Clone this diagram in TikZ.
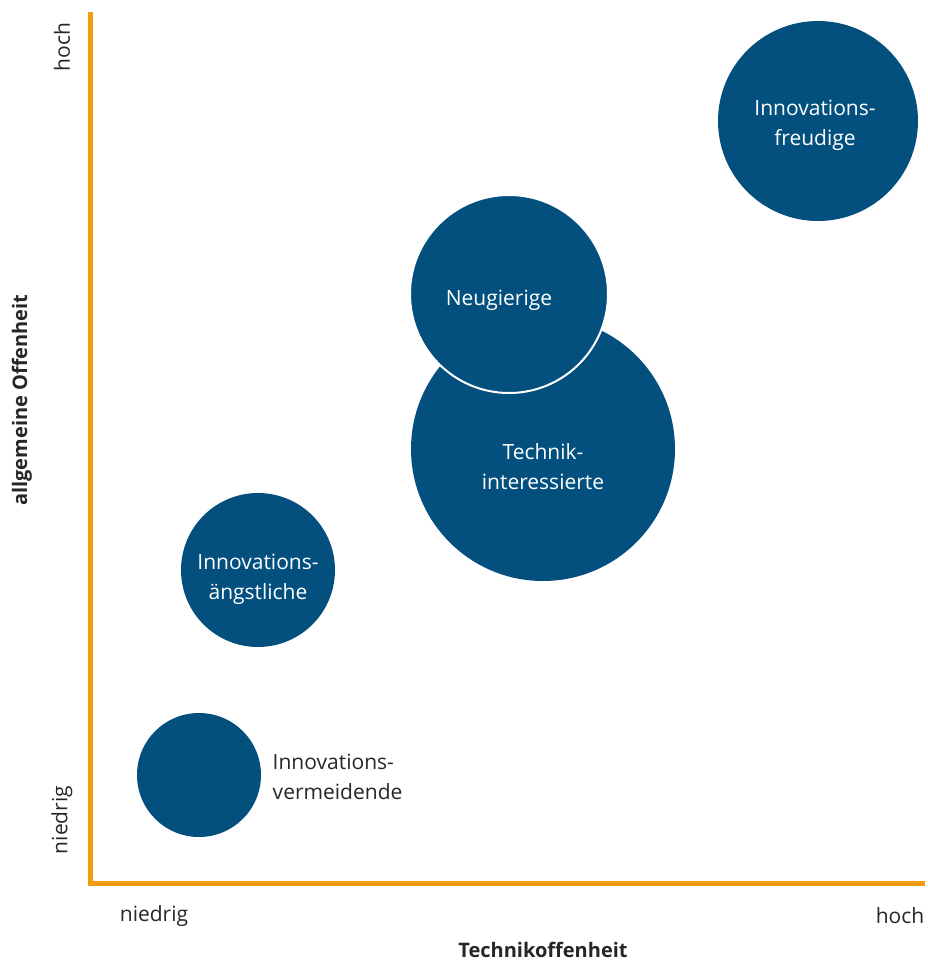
\documentclass[tikz,border=0pt]{standalone}
\usepackage{fontspec}
\setmainfont{Open Sans}
\definecolor{segblue}{HTML}{03507F}
\definecolor{axisorange}{HTML}{F39C12}
\tikzset{
  segment/.style={circle, fill=segblue, inner sep=0pt},
  segtext/.style={text=white, align=center, font=\fontsize{21}{30}\selectfont},
  axislabel/.style={text=black!85, font=\fontsize{21}{30}\selectfont},
  axistitle/.style={text=black!85, font=\fontsize{20}{30}\selectfont\bfseries}
}
\begin{document}
\begin{tikzpicture}[x=1pt, y=-1pt]
\useasboundingbox (0,0) rectangle (928,962);
% axes
\coordinate (top) at (90.5,12);
\coordinate (origin) at (90.5,883.5);
\coordinate (right) at (925,883.5);
\draw[axisorange, line width=5pt] (top) -- (origin) -- (right);
% axis labels
\node[axislabel, rotate=90] (yhigh) at (62,47) {hoch};
\node[axislabel, rotate=90] (ylow) at (62,820) {niedrig};
\node[axistitle, rotate=90] (ytitle) at (22,400) {allgemeine Offenheit};
\node[axislabel] (xlow) at (154,916) {niedrig};
\node[axislabel] (xhigh) at (900,916) {hoch};
\node[axistitle] (xtitle) at (543,950) {Technikoffenheit};
% segments
\node[segment, minimum size=200pt] (freudige) at (818,121) {};
\node[segment, minimum size=264pt] (technik) at (543,449) {};
\node[segment, minimum size=198pt, draw=white, line width=2pt] (neugierige) at (509,294) {};
\node[segment, minimum size=154pt] (aengstliche) at (258,570) {};
\node[segment, minimum size=124pt] (vermeidende) at (199,775) {};
% segment names
\node[segtext] (freudigetext) at ([xshift=-3pt, yshift=-4pt]freudige) {Innovations-\\freudige};
\node[segtext] (techniktext) at ([yshift=-18pt]technik) {Technik-\\interessierte};
\node[segtext] (neugierigetext) at ([xshift=-10pt, yshift=-6pt]neugierige) {Neugierige};
\node[segtext] (aengstlichetext) at ([yshift=-9pt]aengstliche) {Innovations-\\ängstliche};
\node[axislabel, anchor=west, align=left] (vermeidendetext) at ([xshift=8pt, yshift=-2pt]vermeidende.east) {Innovations-\\vermeidende};
\end{tikzpicture}
\end{document}
